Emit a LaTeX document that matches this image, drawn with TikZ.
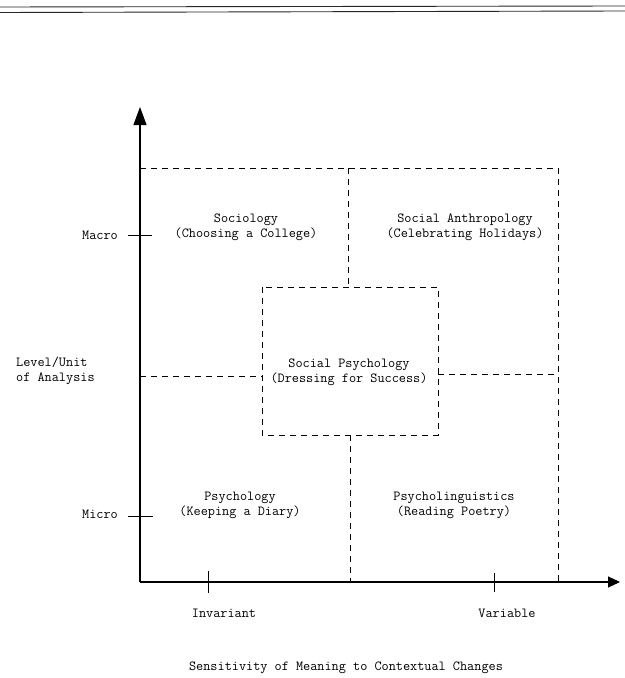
\documentclass[tikz,border=0pt]{standalone}
\usetikzlibrary{arrows.meta}

\begin{document}
\begin{tikzpicture}[x=1bp, y=-1bp, every node/.style={font=\ttfamily\fontsize{13.9}{15}\selectfont, align=center, inner sep=0pt}, grid/.style={dash pattern=on 6bp off 5bp, line width=0.7bp}, axis/.style={line width=1.1bp}, tick/.style={line width=0.7bp}]
  \useasboundingbox (0,0) rectangle (625,678);
  % double rule at the top
  \draw[line width=0.9bp, black!85] (0,7) -- (625,6);
  \draw[line width=0.9bp, black!85] (0,12.5) -- (625,11);
  % axes
  \coordinate (o) at (140,582);
  \coordinate (ytip) at (140,107);
  \coordinate (xtip) at (620,582);
  \draw[axis, -{Triangle[length=18bp,width=13bp]}] (o) -- (ytip);
  \draw[axis, -{Triangle[length=12bp,width=11bp]}] (o) -- (xtip);
  % ticks
  \draw[tick] (128,235) -- (152,235);
  \draw[tick] (128,516) -- (153,516);
  \draw[tick] (208,571) -- (208,593);
  \draw[tick] (494,573) -- (494,592);
  % dashed cells
  \draw[grid] (140,168) -- (558,168) -- (558,582);
  \draw[grid] (348,168) -- (348,287);
  \draw[grid] (262,287) rectangle (438,435);
  \draw[grid] (140,376) -- (262,376);
  \draw[grid] (438,374) -- (558,374);
  \draw[grid] (350,435) -- (350,582);
  % labels
  \node (soc) at (246,227) {Sociology\\(Choosing a College)};
  \node (anth) at (465,227) {Social Anthropology\\(Celebrating Holidays)};
  \node (socpsy) at (349,372) {Social Psychology\\(Dressing for Success)};
  \node (psy) at (240,505) {Psychology\\(Keeping a Diary)};
  \node (ling) at (454,505) {Psycholinguistics\\(Reading Poetry)};
  \node[anchor=east] (macro) at (118,235) {Macro};
  \node[anchor=east] (micro) at (118,514) {Micro};
  \node[anchor=west, align=left] (level) at (16,371) {Level/Unit\\of Analysis};
  \node (inv) at (224,613) {Invariant};
  \node (var) at (507,613) {Variable};
  \node (sens) at (346,668) {Sensitivity of Meaning to Contextual Changes};
\end{tikzpicture}
\end{document}
